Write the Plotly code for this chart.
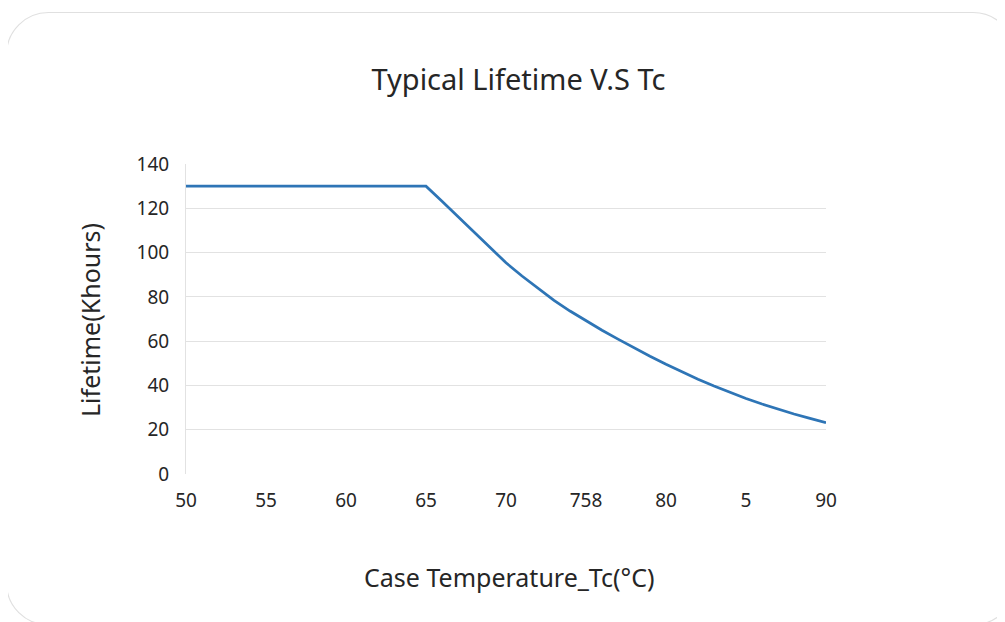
import plotly.graph_objects as go

# Data
temperature_c = [50, 55, 60, 65, 66, 67, 68, 69, 70, 71, 72, 73, 74, 75, 76, 77, 78, 79,
                 80, 81, 82, 83, 84, 85, 86, 87, 88, 89, 90]
lifetime_khours = [130, 130, 130, 130, 123.2, 116.2, 109.2, 102.2, 95.4, 89.4, 83.7, 78.4,
                   73.6, 69.1, 64.9, 60.9, 57.0, 53.2, 49.6, 46.1, 42.8, 39.7, 36.8, 34.1,
                   31.6, 29.3, 27.1, 25.1, 23.2]
x_tick_vals = [50, 55, 60, 65, 70, 75, 80, 85, 90]
x_tick_text = ["50", "55", "60", "65", "70", "758", "80", "5", "90"]
y_tick_vals = [0, 20, 40, 60, 80, 100, 120, 140]

W, H = 1005, 622
OFF = 8                       # page body margin of the html page
L, R, T, B = 186, 826, 164, 474  # plot area in page pixels


def px(x):
    return (x - L) / (R - L)


def py(y):
    return (B - y) / (B - T)


# rounded frame path (page-pixel geometry converted to paper coords)
x0, y0, x1, y1, r = 6.5, 12.5, 1015, 625, 42
k = 0.5523 * r
pts = [
    ("M", [(x0 + r, y0)]),
    ("L", [(x1 - r, y0)]),
    ("C", [(x1 - r + k, y0), (x1, y0 + r - k), (x1, y0 + r)]),
    ("L", [(x1, y1 - r)]),
    ("C", [(x1, y1 - r + k), (x1 - r + k, y1), (x1 - r, y1)]),
    ("L", [(x0 + r, y1)]),
    ("C", [(x0 + r - k, y1), (x0, y1 - r + k), (x0, y1 - r)]),
    ("L", [(x0, y0 + r)]),
    ("C", [(x0, y0 + r - k), (x0 + r - k, y0), (x0 + r, y0)]),
]
path = ""
for cmd, ps in pts:
    path += cmd + " " + " ".join(f"{px(a):.5f},{py(b):.5f}" for a, b in ps) + " "
path += "Z"

font = "Noto Sans, Open Sans, sans-serif"
txt = "#262626"

fig = go.Figure()
fig.add_trace(go.Scatter(
    x=temperature_c, y=lifetime_khours, mode="lines",
    line=dict(color="#2E75B6", width=2.75), showlegend=False,
))

fig.update_layout(
    width=W, height=H,
    margin=dict(l=L - OFF, r=W - (R - OFF), t=T - OFF, b=H - (B - OFF)),
    paper_bgcolor="white", plot_bgcolor="white",
    font=dict(family=font, color=txt),
    title=dict(text="Typical Lifetime V.S Tc", xref="paper", x=px(518.5),
               xanchor="center", y=1 - (80 - OFF) / H, yanchor="middle",
               yref="container",
               font=dict(size=29, color=txt, family=font)),
    xaxis=dict(range=[50, 90], tickvals=x_tick_vals, ticktext=x_tick_text,
               showgrid=False, zeroline=False, showline=False, ticks="",
               tickfont=dict(size=19, color=txt), ticklabelstandoff=13),
    yaxis=dict(range=[0, 140], tickvals=y_tick_vals, showgrid=True,
               gridcolor="#e2e2e2", gridwidth=1, zeroline=False,
               showline=True, linecolor="#e2e2e2", linewidth=1, ticks="",
               tickfont=dict(size=19, color=txt), ticklabelstandoff=12),
    shapes=[dict(type="path", path=path, xref="paper", yref="paper",
                 line=dict(color="#e0e0e0", width=1.2), layer="below")],
    annotations=[
        dict(text="Case Temperature_Tc(°C)", xref="paper", yref="paper",
             x=px(509), y=py(577), xanchor="center", yanchor="middle",
             showarrow=False, font=dict(size=25, color=txt, family=font)),
        dict(text="Lifetime(Khours)", xref="paper", yref="paper",
             x=px(90), y=py(320), xanchor="center", yanchor="middle",
             textangle=-90, showarrow=False,
             font=dict(size=25, color=txt, family=font)),
    ],
)

fig.write_html("out.html")
